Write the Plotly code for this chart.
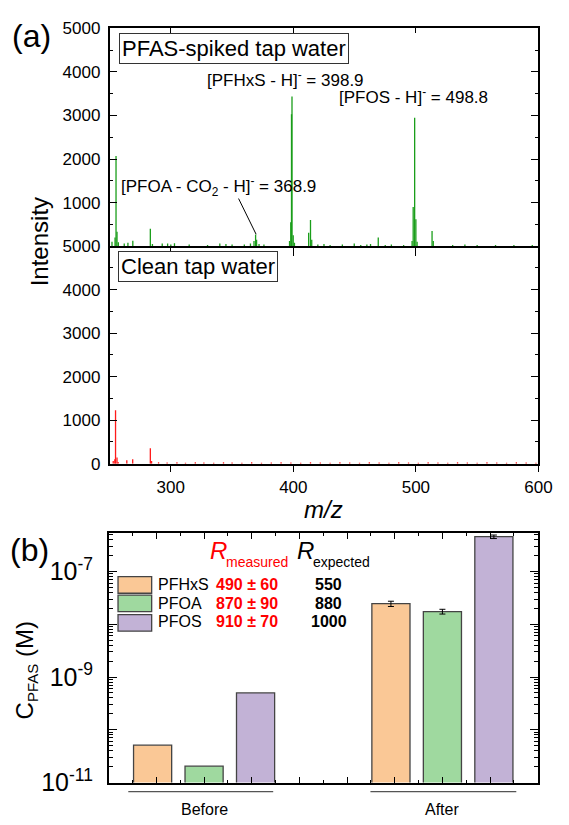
import plotly.graph_objects as go

W, H = 569, 825

# ---------------- data: mass spectra ----------------
spiked_mz = [252.0, 254.5, 255.3, 256.1, 257.2, 262.0, 265.0, 269.0, 283.3, 285.0,
             293.0, 297.4, 300.0, 303.0, 315.0, 330.0, 340.0, 345.0, 350.0, 360.0,
             365.0, 367.9, 369.2, 370.0, 372.0, 376.0, 396.9, 397.9, 398.5, 398.9,
             399.9, 400.9, 412.5, 414.0, 415.0, 420.0, 425.0, 430.0, 440.0, 449.7,
             455.0, 460.0, 463.0, 469.3, 475.0, 480.0, 490.0, 496.9, 497.8, 499.0,
             500.0, 501.0, 513.2, 514.2, 530.0, 540.0, 550.0, 565.0, 580.0, 595.0]
spiked_int = [100, 200, 2070, 330, 90, 60, 80, 125, 400, 50,
              60, 60, 40, 70, 40, 30, 60, 50, 40, 40,
              60, 120, 270, 150, 50, 40, 120, 550, 3030, 3440,
              250, 80, 310, 600, 150, 40, 50, 30, 40, 60,
              30, 40, 50, 200, 30, 40, 30, 120, 900, 2950,
              620, 100, 350, 120, 30, 40, 30, 30, 30, 30]

clean_mz = [253.0, 254.3, 254.9, 256.1, 257.0, 264.1, 268.9, 283.3, 284.3, 290.0,
            297.0, 305.0, 312.0, 320.0, 327.0, 335.0, 343.0, 350.0, 358.0, 366.0,
            374.0, 382.0, 390.0, 398.0, 406.0, 414.0, 422.0, 430.0, 438.0, 446.0,
            454.0, 462.0, 470.0, 478.0, 486.0, 494.0, 502.0, 510.0, 518.0, 526.0,
            534.0, 542.0, 550.0, 558.0, 566.0, 574.0, 582.0, 590.0, 598.0]
clean_int = [60, 100, 1230, 140, 40, 76, 100, 355, 60, 30,
             25, 35, 20, 30, 25, 20, 30, 25, 20, 30,
             20, 25, 30, 25, 20, 30, 25, 20, 30, 25,
             20, 30, 25, 20, 30, 25, 20, 30, 25, 20,
             30, 25, 20, 30, 25, 20, 30, 25, 20]

# ---------------- data: concentrations ----------------
species = ["PFHxS", "PFOA", "PFOS"]
groups = ["Before", "After"]
conc_before = [5.1e-11, 2.04e-11, 5.0e-10]
conc_after = [2.45e-8, 1.74e-8, 4.56e-7]
err_after = [2.8e-9, 1.8e-9, 3.5e-8]
r_measured = ["490 ± 60", "870 ± 90", "910 ± 70"]
r_expected = ["550", "880", "1000"]

ms_ticks = [300, 400, 500, 600]
int_ticks = [0, 1000, 2000, 3000, 4000, 5000]
log_labeled = [1e-11, 1e-9, 1e-7]
log_labels = ["10<sup>-11</sup>", "10<sup>-9</sup>", "10<sup>-7</sup>"]
log_unlabeled = [1e-10, 1e-8]

# ---------------- styles ----------------
FONT = "Arial, Liberation Sans, sans-serif"
colors = ["#FAC896", "#9FD99F", "#C2B2D6"]
group_pos = [2.0, 7.0]
offsets = [-1.08, 0.0, 1.08]


def px(xp):
    return xp / W


def py(yp):
    return 1 - yp / H


def stems(xs, ys):
    sx, sy = [], []
    for a, b in zip(xs, ys):
        sx += [a, a, None]
        sy += [0, b, None]
    return sx, sy


fig = go.Figure()

sx, sy = stems(spiked_mz, spiked_int)
fig.add_trace(go.Scatter(x=sx, y=sy, mode="lines", line=dict(color="#1a9e1a", width=1.3),
                         xaxis="x", yaxis="y", showlegend=False, hoverinfo="skip"))
sx, sy = stems(clean_mz, clean_int)
fig.add_trace(go.Scatter(x=sx, y=sy, mode="lines", line=dict(color="#ff1a1a", width=1.3),
                         xaxis="x2", yaxis="y2", showlegend=False, hoverinfo="skip"))
# helper traces so the extra tick axes are drawn
fig.add_trace(go.Scatter(x=[None], y=[None], xaxis="x4", yaxis="y", showlegend=False,
                         hoverinfo="skip"))
fig.add_trace(go.Scatter(x=[None], y=[None], xaxis="x3", yaxis="y5", showlegend=False,
                         hoverinfo="skip"))

for i, sp in enumerate(species):
    xb = group_pos[0] + offsets[i]
    xa = group_pos[1] + offsets[i]
    bar_style = dict(color=colors[i], line=dict(color="#444444", width=1.3))
    fig.add_trace(go.Bar(x=[xb], y=[conc_before[i]], width=0.8, name=sp, marker=bar_style,
                         xaxis="x3", yaxis="y3", showlegend=False, hoverinfo="skip"))
    fig.add_trace(go.Bar(x=[xa], y=[conc_after[i]], width=0.8, name=sp, marker=bar_style,
                         error_y=dict(type="data", array=[err_after[i]], color="black",
                                      thickness=1, width=3),
                         xaxis="x3", yaxis="y3", showlegend=False, hoverinfo="skip"))

axis_common = dict(showline=True, linecolor="black", linewidth=1.5, showgrid=False,
                   zeroline=False, tickcolor="black", tickwidth=1.3,
                   tickfont=dict(family=FONT, size=17, color="black"))

top_dom = [py(244), py(20)]
mid_dom = [py(467.7), py(244)]
xdom = [px(112.3), px(552)]
bar_ydom = [py(795.7), py(539)]
minor_log = [m * 10 ** e for e in range(-11, -6) for m in range(2, 10)]

fig.update_layout(
    width=W, height=H, margin=dict(l=0, r=0, t=0, b=0),
    plot_bgcolor="white", paper_bgcolor="white",
    barmode="overlay",
    xaxis=dict(axis_common, domain=xdom, range=[250, 600], anchor="y", side="bottom",
               ticks="outside", ticklen=8, tickvals=ms_ticks, showticklabels=False,
               mirror=True),
    xaxis4=dict(axis_common, domain=xdom, range=[250, 600], anchor="y", overlaying="x",
                side="top", ticks="inside", ticklen=5, tickvals=ms_ticks,
                showticklabels=False, showline=False),
    yaxis=dict(axis_common, domain=top_dom, range=[0, 5000], anchor="x",
               ticks="inside", ticklen=8, tickvals=int_ticks[1:], mirror="ticks",
               ticklabelstandoff=4,
               minor=dict(ticks="inside", ticklen=4, tickcolor="black",
                          tickvals=[500, 1500, 2500, 3500, 4500])),
    xaxis2=dict(axis_common, domain=xdom, range=[250, 600], anchor="y2",
                ticks="outside", ticklen=7, tickvals=ms_ticks, mirror=False),
    yaxis2=dict(axis_common, domain=mid_dom, range=[0, 5000], anchor="x2",
                ticks="inside", ticklen=8, tickvals=int_ticks, mirror="ticks",
                ticklabelstandoff=4,
                minor=dict(ticks="inside", ticklen=4, tickcolor="black",
                           tickvals=[500, 1500, 2500, 3500, 4500])),
    xaxis3=dict(axis_common, domain=[px(111.5), px(551.3)], range=[0, 9], anchor="y3",
                ticks="inside", ticklen=6, tickvals=list(range(1, 9)),
                showticklabels=False, mirror="ticks",
                minor=dict(ticks="inside", ticklen=3, tickcolor="black",
                           tickvals=[k + 0.5 for k in range(9)])),
    yaxis3=dict(axis_common, domain=bar_ydom, type="log",
                range=[-11, -6.27], anchor="x3", ticks="inside", ticklen=8,
                tickvals=log_labeled, ticktext=log_labels,
                tickfont=dict(family=FONT, size=25, color="black"),
                mirror="ticks", ticklabelstandoff=9,
                minor=dict(ticks="inside", ticklen=4, tickcolor="black",
                           tickvals=minor_log)),
    yaxis5=dict(domain=bar_ydom, type="log", range=[-11, -6.27], anchor="x3",
                overlaying="y3", showline=False, showgrid=False, zeroline=False,
                ticks="inside", ticklen=8, tickcolor="black", tickwidth=1.3,
                tickvals=log_unlabeled, showticklabels=False, mirror="ticks"),
)

ann = []


def text(x, y, s, size, xanchor="center", yanchor="middle", color="black", angle=0, **kw):
    ann.append(dict(x=px(x), y=py(y), xref="paper", yref="paper", text=s, showarrow=False,
                    xanchor=xanchor, yanchor=yanchor, textangle=angle,
                    font=dict(family=FONT, size=size, color=color), **kw))


text(32, 28, "(a)", 32)
text(30, 557, "(b)", 32)
text(40, 240, "Intensity", 24, angle=-90)
text(332, 515, "<i>m/z</i>", 24)
text(27, 680, "C<sub><span style='font-size:15px'>PFAS</span></sub> (M)", 24, angle=-90)

text(122, 25, "PFAS-spiked tap water", 22, xanchor="left", yanchor="top",
     bordercolor="#333333", borderwidth=1, borderpad=2, bgcolor="white")
text(121, 248.5, "Clean tap water", 22, xanchor="left", yanchor="top",
     bordercolor="#333333", borderwidth=1, borderpad=2, bgcolor="white")

text(210, 72, "[PFHxS - H]<sup>-</sup> = 398.9", 17, xanchor="left")
text(345.5, 89.5, "[PFOS - H]<sup>-</sup> = 498.8", 17, xanchor="left")
text(122.5, 168, "[PFOA - CO<sub>2</sub> - H]<sup>-</sup> = 368.9", 17, xanchor="left",
     yanchor="top")

rows_y = [592.5, 611.5, 630.5]
for i, sp in enumerate(species):
    text(160, rows_y[i], sp, 16, xanchor="left")
    text(253, rows_y[i], "<b>%s</b>" % r_measured[i], 16, color="#ff0000")
    text(337, rows_y[i], "<b>%s</b>" % r_expected[i], 16)
text(224, 557, "<i>R</i>", 24, color="#ff0000")
text(263, 569, "measured", 14, color="#ff0000")
text(313, 557, "<i>R</i>", 24)
text(350, 569, "expected", 14)

for g, gp in zip(groups, group_pos):
    ann.append(dict(x=gp, y=py(813), xref="x3", yref="paper", text=g, showarrow=False,
                    xanchor="center", yanchor="top",
                    font=dict(family=FONT, size=16, color="black")))

fig.update_layout(annotations=ann)

shapes = []
# pointer line for the PFOA fragment label
shapes.append(dict(type="line", xref="x", yref="y", x0=355.3, y0=1094, x1=369.6, y1=275,
                   line=dict(color="black", width=1)))
# legend swatches
sw_y = [(584, 601), (603, 620), (623, 640)]
for i in range(3):
    shapes.append(dict(type="rect", xref="paper", yref="paper", x0=px(121), x1=px(155.5),
                       y0=py(sw_y[i][1]), y1=py(sw_y[i][0]), fillcolor=colors[i],
                       line=dict(color="#444444", width=1.3)))
# group underlines
for lo, hi in [(0.41, 3.45), (5.49, 8.55)]:
    shapes.append(dict(type="line", xref="x3", yref="paper", x0=lo, x1=hi,
                       y0=py(805), y1=py(805), line=dict(color="#555555", width=1.2)))
fig.update_layout(shapes=shapes)

fig.write_html("out.html")
